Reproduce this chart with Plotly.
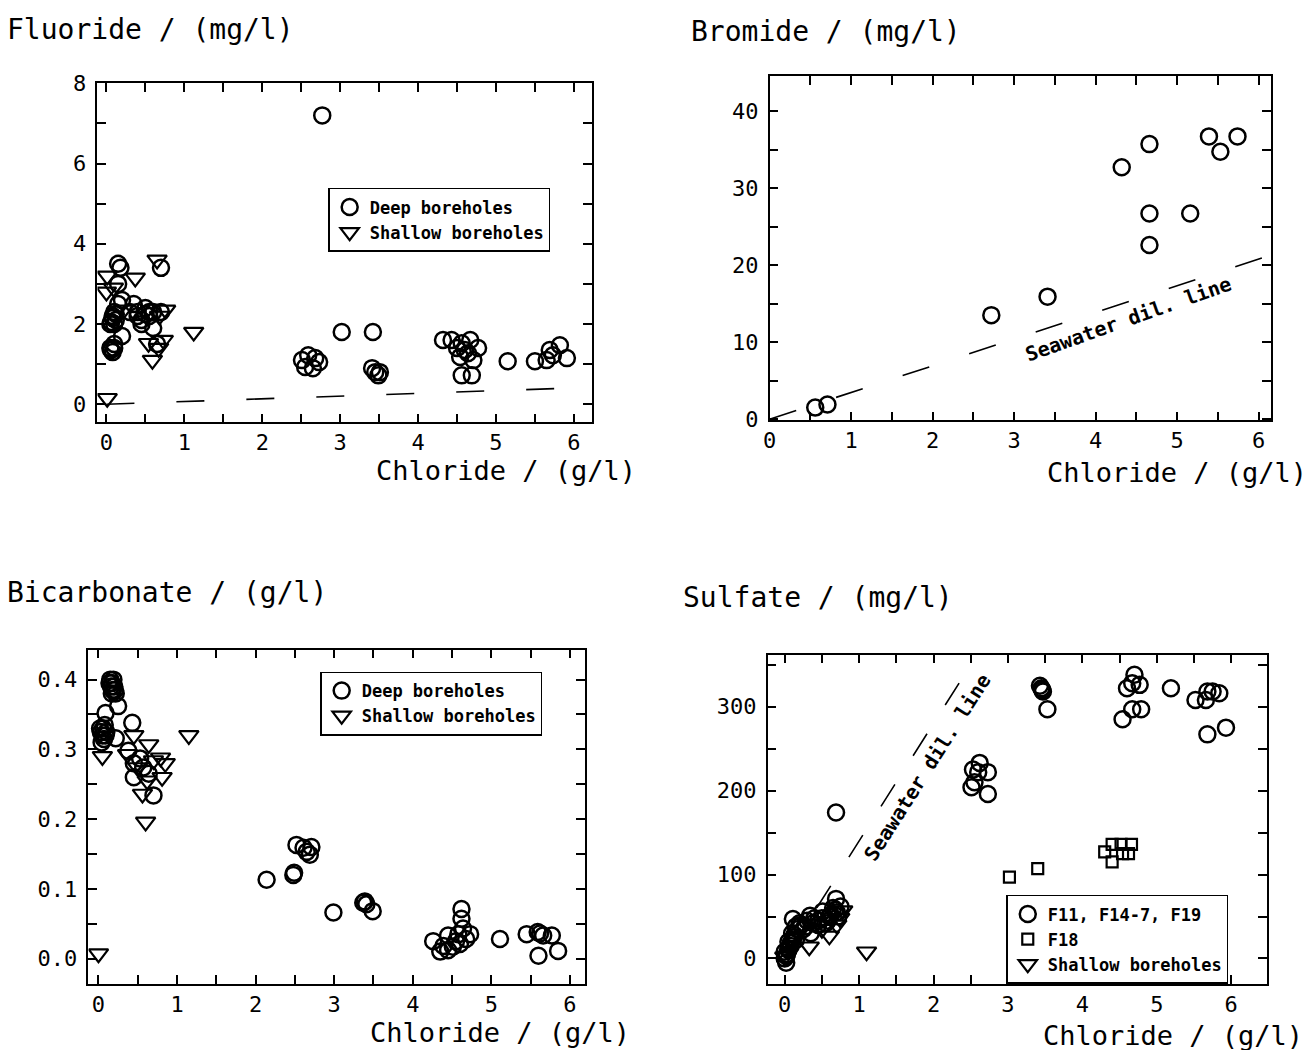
import plotly.graph_objects as go

# ---------------- data ----------------
# Fluoride vs chloride
cl_f_deep = [2.77,
             0.05, 0.08, 0.10, 0.12, 0.15, 0.20, 0.05, 0.08, 0.10, 0.20, 0.15, 0.18, 0.15,
             0.35, 0.40, 0.45, 0.50, 0.55, 0.45, 0.60, 0.70, 0.70, 0.60, 0.65, 0.10, 0.30,
             0.06, 0.08, 0.12, 0.06, 0.10, 0.50, 0.55, 0.40,
             2.51, 2.59, 2.68, 2.55, 2.65, 2.73, 3.02, 3.42, 3.41, 3.45, 3.49, 3.51,
             4.32, 4.43, 4.56, 4.67, 4.77, 4.54, 4.64, 4.60, 4.56, 4.69, 4.71, 4.50,
             5.15, 5.50, 5.65, 5.69, 5.82, 5.91, 5.73]
f_deep = [7.2,
          2.0, 2.2, 2.3, 2.1, 2.5, 2.6, 1.4, 1.3, 1.5, 1.7, 3.5, 3.4, 3.0,
          2.5, 2.3, 2.1, 2.4, 2.2, 2.0, 2.3, 3.4, 2.3, 1.9, 1.5, 2.0, 2.3,
          2.05, 2.15, 2.25, 1.35, 1.40, 2.25, 2.30, 2.20,
          1.10, 1.22, 1.15, 0.93, 0.90, 1.05, 1.8, 1.8, 0.90, 0.80, 0.72, 0.80,
          1.60, 1.60, 1.52, 1.60, 1.40, 1.18, 1.27, 1.35, 0.72, 0.72, 1.10, 1.40,
          1.07, 1.07, 1.10, 1.35, 1.47, 1.15, 1.22]
cl_f_shallow = [0.65, 0.37, 0.01, 0.00, 0.09, 0.76, 0.73, 0.54, 0.59, 1.12, 0.01, 0.67, 0.68, 0.22]
f_shallow = [3.6, 3.15, 3.2, 2.8, 2.9, 2.35, 1.6, 1.52, 1.1, 1.8, 0.15, 1.4, 2.2, 2.35]

# Bromide vs chloride
cl_br = [0.56, 0.71, 2.72, 3.41, 4.32, 4.66, 4.66, 4.66, 5.16, 5.39, 5.53, 5.74]
br = [1.5, 1.9, 13.5, 15.9, 32.7, 35.7, 26.7, 22.6, 26.7, 36.7, 34.7, 36.7]

# Bicarbonate vs chloride
cl_hco3_deep = [0.15, 0.17, 0.20, 0.18, 0.22, 0.16, 0.25, 0.09, 0.02, 0.05, 0.08, 0.04, 0.10,
                0.22, 0.43, 0.38, 0.45, 0.45, 0.70, 0.57, 0.64, 0.53,
                0.14, 0.19, 0.21, 0.17, 0.03, 0.06, 0.07, 0.09,
                2.14, 2.48, 2.49, 2.52, 2.61, 2.71, 2.69, 2.65, 2.99, 3.39, 3.41, 3.49, 3.37,
                4.26, 4.35, 4.39, 4.45, 4.51, 4.58, 4.62, 4.62, 4.64, 4.73, 4.60, 4.45, 4.68, 4.55,
                5.11, 5.45, 5.59, 5.66, 5.77, 5.60, 5.85, 5.62]
hco3_deep = [0.400, 0.395, 0.390, 0.385, 0.380, 0.390, 0.362, 0.352, 0.330, 0.320, 0.335, 0.310, 0.325,
             0.316, 0.338, 0.298, 0.280, 0.260, 0.234, 0.274, 0.265, 0.287,
             0.395, 0.400, 0.385, 0.380, 0.325, 0.330, 0.315, 0.320,
             0.113, 0.120, 0.123, 0.163, 0.159, 0.160, 0.149, 0.153, 0.066, 0.082, 0.078, 0.068, 0.080,
             0.025, 0.010, 0.018, 0.033, 0.017, 0.035, 0.071, 0.057, 0.043, 0.035, 0.021, 0.012, 0.028, 0.025,
             0.028, 0.035, 0.038, 0.033, 0.033, 0.004, 0.011, 0.036]
cl_hco3_shallow = [0.05, 1.15, 0.60, 0.56, 0.45, 0.64, 0.79, 0.81, 0.62, 0.37, 0.70, 0.00, 0.50, 0.85]
hco3_shallow = [0.290, 0.320, 0.196, 0.236, 0.320, 0.307, 0.288, 0.260, 0.255, 0.293, 0.284, 0.007, 0.274, 0.280]

# Sulfate vs chloride
cl_so4_f = [3.45, 3.47, 3.43, 3.46, 3.53, 4.70, 4.67, 4.60, 4.77, 4.54, 4.67, 4.79, 5.19,
            5.52, 5.68, 5.75, 5.84, 5.66, 5.68, 5.93,
            2.62, 2.53, 2.73, 2.51, 2.73, 2.60, 2.55,
            0.69, 0.69, 0.11, 0.34, 0.51, 0.00, 0.00, 0.02, 0.05, 0.10, 0.15, 0.20, 0.25,
            0.30, 0.40, 0.45, 0.60, 0.65, 0.70, 0.75, 0.05, 0.08, 0.12, 0.03, 0.15, 0.35, 0.55,
            0.02, 0.05, 0.08, 0.10, 0.13, 0.18, 0.22, 0.28, 0.38, 0.45, 0.50, 0.58, 0.62, 0.68, 0.72]
so4_f = [322, 318, 325, 320, 297, 338, 328, 322, 326, 285, 297, 297, 322,
         308, 318, 318, 316, 308, 267, 275,
         233, 225, 222, 204, 196, 222, 210,
         174, 71, 47, 51, 56, 8, 0, -5, 20, 30, 38, 42, 35,
         45, 48, 40, 50, 60, 55, 62, 10, 15, 25, 5, 22, 30, 42,
         3, 12, 18, 22, 28, 35, 40, 38, 42, 45, 48, 45, 52, 58, 50]
cl_so4_f18 = [3.02, 3.40, 4.30, 4.40, 4.52, 4.66, 4.40, 4.54, 4.62]
so4_f18 = [97, 107, 127, 136, 136, 136, 115, 125, 125]
cl_so4_shallow = [1.10, 0.60, 0.33, 0.78, 0.74, 0.00, 0.50, 0.70]
so4_shallow = [8, 27, 14, 57, 48, 2, 35, 40]

# Seawater dilution lines (ratio to chloride, per g/l Cl)
cl_sw_f = [0.0, 6.2]
f_sw = [0.0, 0.42]
cl_sw_br = [0.0, 6.15]
br_sw = [0.0, 21.3]
cl_sw_so4 = [0.0, 2.55]
so4_sw = [0.0, 357]

W, H = 1314, 1050
FONT = "DejaVu Sans Mono"
BLACK = "black"


def px(x):
    # page pixel -> paper fraction
    return ((x - 6.4) / 0.996) / W


def py(y):
    return 1 - ((y - 10.5) / 0.98) / H


def axis(domain, rng, dtick, minor_dtick, anchor, fmt=None, standoff=0):
    d = dict(domain=domain, range=rng, dtick=dtick, tick0=0, anchor=anchor,
             ticks="inside", ticklen=9, tickwidth=1.5, tickcolor=BLACK,
             showline=True, linecolor=BLACK, linewidth=1.5, mirror="ticks",
             showgrid=False, zeroline=False, ticklabelstandoff=standoff,
             minor=dict(ticks="inside", dtick=minor_dtick, tick0=0, ticklen=9,
                        tickwidth=1.5, tickcolor=BLACK, showgrid=False),
             tickfont=dict(family=FONT, size=22, color=BLACK))
    if fmt:
        d["tickformat"] = fmt
    return d


circle = dict(symbol="circle-open", size=16, color=BLACK, line=dict(width=2.5, color=BLACK))
tri = dict(symbol="triangle-down-open", size=17, color=BLACK, line=dict(width=2.2, color=BLACK))
square = dict(symbol="square-open", size=11, color=BLACK, line=dict(width=2.2, color=BLACK))
dash_line = dict(color=BLACK, width=1.6, dash="28px,42px")

fig = go.Figure()

# Panel 1: fluoride
fig.add_trace(go.Scatter(x=cl_sw_f, y=f_sw, mode="lines", line=dash_line,
                         xaxis="x", yaxis="y", showlegend=False, hoverinfo="skip"))
fig.add_trace(go.Scatter(x=cl_f_deep, y=f_deep, mode="markers", marker=circle,
                         name="Deep boreholes", xaxis="x", yaxis="y", legend="legend"))
fig.add_trace(go.Scatter(x=cl_f_shallow, y=f_shallow, mode="markers", marker=tri,
                         name="Shallow boreholes", xaxis="x", yaxis="y", legend="legend"))

# Panel 2: bromide
fig.add_trace(go.Scatter(x=cl_sw_br, y=br_sw, mode="lines", line=dash_line,
                         xaxis="x2", yaxis="y2", showlegend=False, hoverinfo="skip"))
fig.add_trace(go.Scatter(x=cl_br, y=br, mode="markers", marker=circle,
                         name="Deep boreholes", xaxis="x2", yaxis="y2", showlegend=False))

# Panel 3: bicarbonate
fig.add_trace(go.Scatter(x=cl_hco3_deep, y=hco3_deep, mode="markers", marker=circle,
                         name="Deep boreholes", xaxis="x3", yaxis="y3", legend="legend2"))
fig.add_trace(go.Scatter(x=cl_hco3_shallow, y=hco3_shallow, mode="markers", marker=tri,
                         name="Shallow boreholes", xaxis="x3", yaxis="y3", legend="legend2"))

# Panel 4: sulfate
fig.add_trace(go.Scatter(x=cl_sw_so4, y=so4_sw, mode="lines",
                         line=dict(color=BLACK, width=1.6, dash="26px,34px"),
                         xaxis="x4", yaxis="y4", showlegend=False, hoverinfo="skip"))
fig.add_trace(go.Scatter(x=cl_so4_f, y=so4_f, mode="markers", marker=circle,
                         name="F11, F14-7, F19", xaxis="x4", yaxis="y4", legend="legend3"))
fig.add_trace(go.Scatter(x=cl_so4_f18, y=so4_f18, mode="markers", marker=square,
                         name="F18", xaxis="x4", yaxis="y4", legend="legend3"))
fig.add_trace(go.Scatter(x=cl_so4_shallow, y=so4_shallow, mode="markers", marker=tri,
                         name="Shallow boreholes", xaxis="x4", yaxis="y4", legend="legend3"))

legend_font = dict(family=FONT, size=17, color=BLACK, weight="bold")


def legend_at(x, y):
    return dict(x=px(x), y=py(y), xanchor="left", yanchor="top", xref="paper", yref="paper",
                bgcolor="white", bordercolor=BLACK, borderwidth=1.5, font=legend_font,
                traceorder="normal", itemsizing="trace", tracegroupgap=0)


annotations = []


def label(text, x, y, size=28, xanchor="left"):
    annotations.append(dict(text=text, x=px(x), y=py(y), xref="paper", yref="paper",
                            xanchor=xanchor, yanchor="middle", showarrow=False,
                            font=dict(family=FONT, size=size, color=BLACK)))


label("Fluoride / (mg/l)", 4, 28)
label("Bromide / (mg/l)", 689, 30)
label("Bicarbonate / (g/l)", 4, 593)
label("Sulfate / (mg/l)", 681, 598)
label("Chloride / (g/l)", 638, 470, size=27, xanchor="right")
label("Chloride / (g/l)", 1310, 472, size=27, xanchor="right")
label("Chloride / (g/l)", 632, 1034, size=27, xanchor="right")
label("Chloride / (g/l)", 1306, 1037, size=27, xanchor="right")

# Seawater dilution line labels, placed along the lines in data coordinates
annotations.append(dict(text="Seawater dil. line", x=4.40, y=13.0, xref="x2", yref="y2",
                        textangle=-19.5, showarrow=False,
                        font=dict(family=FONT, size=20, color=BLACK, weight="bold")))
annotations.append(dict(text="Seawater dil. line", x=1.92, y=228, xref="x4", yref="y4",
                        textangle=-57.5, showarrow=False,
                        font=dict(family=FONT, size=20, color=BLACK, weight="bold")))

fig.update_layout(
    width=W, height=H,
    margin=dict(l=0, r=0, t=0, b=0),
    paper_bgcolor="white", plot_bgcolor="white",
    xaxis=axis([px(97), px(592)], [-0.115, 6.23], 1, 0.5, "y"),
    yaxis=axis([py(422), py(82)], [-0.45, 8.0], 2, 1, "x", standoff=5),
    xaxis2=axis([px(770), px(1272)], [0.0, 6.15], 1, 0.5, "y2"),
    yaxis2=axis([py(420), py(75)], [-0.15, 44.5], 10, 5, "x2", standoff=5),
    xaxis3=axis([px(88), px(585)], [-0.127, 6.19], 1, 0.5, "y3"),
    yaxis3=axis([py(985), py(650)], [-0.036, 0.443], 0.1, 0.05, "x3", ".1f", standoff=5),
    xaxis4=axis([px(768), px(1268)], [-0.23, 6.48], 1, 0.5, "y4"),
    yaxis4=axis([py(985), py(655)], [-30, 362], 100, 50, "x4", standoff=5),
    legend=legend_at(328, 187),
    legend2=legend_at(320, 672),
    legend3=legend_at(1007, 896),
    annotations=annotations,
    showlegend=True,
)

fig.write_html("out.html")
